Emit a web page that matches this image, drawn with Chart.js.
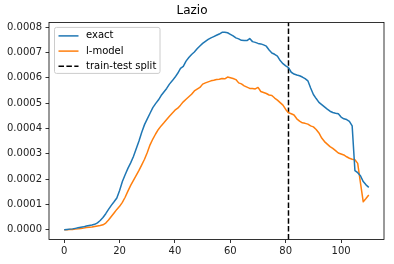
<!DOCTYPE html>
<html>
<head>
<meta charset="utf-8">
<script src="https://cdn.jsdelivr.net/npm/chart.js@4.4.1/dist/chart.umd.min.js"></script>
<style>
  html, body { margin: 0; padding: 0; background: #fff; }
  canvas { display: block; }
</style>
</head>
<body>
<canvas id="lazioChart" width="394" height="264"></canvas>
<script>
// values, in units of 1e-4
const steps = Array.from({length: 111}, (_, i) => i);
const exactVals = [
    0.00, 0.01, 0.02, 0.03, 0.05, 0.07, 0.09, 0.11, 0.14, 0.16,
    0.18, 0.21, 0.27, 0.36, 0.48, 0.63, 0.80, 0.96, 1.10, 1.25,
    1.55, 1.90, 2.17, 2.42, 2.64, 2.89, 3.20, 3.50, 3.85, 4.15,
    4.38, 4.60, 4.82, 4.98, 5.12, 5.30, 5.44, 5.58, 5.75, 5.88,
    6.02, 6.18, 6.37, 6.45, 6.66, 6.80, 6.92, 7.02, 7.15, 7.26,
    7.36, 7.44, 7.52, 7.58, 7.63, 7.68, 7.73, 7.80, 7.80, 7.78,
    7.72, 7.66, 7.58, 7.54, 7.48, 7.47, 7.47, 7.55, 7.43, 7.40,
    7.36, 7.34, 7.30, 7.25, 7.10, 6.98, 6.93, 6.86, 6.68, 6.56,
    6.47, 6.40, 6.22, 6.15, 6.11, 6.08, 6.03, 5.97, 5.88, 5.60,
    5.34, 5.18, 5.03, 4.94, 4.85, 4.76, 4.68, 4.63, 4.60, 4.58,
    4.45, 4.38, 4.35, 4.28, 4.10, 2.33, 2.25, 2.13, 1.90, 1.77,
    1.67
];
const modelVals = [
    0.00, 0.00, 0.01, 0.01, 0.02, 0.03, 0.04, 0.06, 0.08, 0.09,
    0.10, 0.12, 0.14, 0.16, 0.19, 0.26, 0.38, 0.52, 0.66, 0.80,
    0.92, 1.08, 1.28, 1.52, 1.75, 1.95, 2.14, 2.34, 2.56, 2.78,
    3.05, 3.35, 3.58, 3.78, 3.96, 4.10, 4.22, 4.35, 4.48, 4.60,
    4.72, 4.80, 4.92, 5.05, 5.15, 5.25, 5.35, 5.48, 5.55, 5.62,
    5.75, 5.80, 5.84, 5.88, 5.90, 5.93, 5.94, 5.97, 5.96, 6.03,
    6.00, 5.97, 5.93, 5.80, 5.76, 5.68, 5.63, 5.58, 5.58, 5.56,
    5.62, 5.46, 5.42, 5.38, 5.32, 5.30, 5.20, 5.12, 5.02, 4.92,
    4.75, 4.62, 4.58, 4.53, 4.38, 4.29, 4.22, 4.20, 4.17, 4.10,
    4.06, 3.96, 3.82, 3.62, 3.48, 3.38, 3.28, 3.21, 3.12, 3.03,
    2.99, 2.95, 2.88, 2.82, 2.78, 2.76, 2.62, 1.85, 1.10, 1.23,
    1.37
];
const splitX = 81;
const xTicks = [0, 20, 40, 60, 80, 100];
const yTicks = [0, 0.0001, 0.0002, 0.0003, 0.0004, 0.0005, 0.0006, 0.0007, 0.0008];
const xMin = -5.5, xMax = 115.5;
const yMin = -0.000039, yMax = 0.000819;

Chart.defaults.font.family = "'DejaVu Sans', sans-serif";
Chart.defaults.color = '#000';

// matplotlib-like frame around the axes
const frame = {
    id: 'frame',
    afterDraw(chart) {
        const a = chart.chartArea;
        const ctx = chart.ctx;
        ctx.save();
        ctx.strokeStyle = '#000';
        ctx.lineWidth = 0.8;
        ctx.strokeRect(a.left, a.top, a.right - a.left, a.bottom - a.top);
        ctx.restore();
    }
};

// legend drawn inside the plot, upper left
const innerLegend = {
    id: 'innerLegend',
    afterDatasetsDraw(chart) {
        const ctx = chart.ctx;
        const a = chart.chartArea;
        const x = a.left + 5.5, y = a.top + 5, w = 105.5, h = 46;
        ctx.save();
        ctx.beginPath();
        ctx.roundRect(x, y, w, h, 2);
        ctx.fillStyle = 'rgba(255,255,255,0.8)';
        ctx.fill();
        ctx.strokeStyle = '#cccccc';
        ctx.lineWidth = 1;
        ctx.stroke();
        ctx.font = "10px 'DejaVu Sans'";
        ctx.textBaseline = 'middle';
        chart.data.datasets.forEach((ds, i) => {
            const ly = y + 8.5 + i * 15.2;
            ctx.beginPath();
            ctx.setLineDash(ds.borderDash || []);
            ctx.strokeStyle = ds.borderColor;
            ctx.lineWidth = ds.borderWidth;
            ctx.moveTo(x + 4, ly);
            ctx.lineTo(x + 24, ly);
            ctx.stroke();
            ctx.setLineDash([]);
            ctx.fillStyle = '#000';
            ctx.fillText(ds.label, x + 31.5, ly);
        });
        ctx.restore();
    }
};

const ctx = document.getElementById('lazioChart').getContext('2d');
new Chart(ctx, {
    type: 'line',
    data: {
        datasets: [{
            label: 'exact',
            data: steps.map((s, i) => ({x: s, y: exactVals[i] * 1e-4})),
            borderColor: '#1f77b4',
            borderWidth: 1.5,
            pointRadius: 0,
            tension: 0,
            borderJoinStyle: 'round'
        }, {
            label: 'l-model',
            data: steps.map((s, i) => ({x: s, y: modelVals[i] * 1e-4})),
            borderColor: '#ff7f0e',
            borderWidth: 1.5,
            pointRadius: 0,
            tension: 0,
            borderJoinStyle: 'round'
        }, {
            label: 'train-test split',
            data: [{x: splitX, y: yMin}, {x: splitX, y: yMax}],
            borderColor: '#000',
            borderWidth: 1.5,
            borderDash: [5.5, 2.4],
            pointRadius: 0
        }]
    },
    options: {
        responsive: false,
        animation: false,
        devicePixelRatio: 1,
        layout: { padding: { left: 0, right: 10, top: 0, bottom: 0 } },
        plugins: {
            legend: { display: false },
            tooltip: { enabled: false },
            title: {
                display: true,
                text: 'Lazio',
                color: '#000',
                font: { size: 12, weight: 'normal' },
                padding: { top: 4, bottom: 4 }
            }
        },
        scales: {
            x: {
                type: 'linear',
                min: xMin,
                max: xMax,
                afterBuildTicks: (scale) => { scale.ticks = xTicks.map(v => ({value: v})); },
                afterFit: (scale) => { scale.height = 24.5; },
                border: { display: false },
                grid: {
                    drawOnChartArea: false,
                    drawTicks: true,
                    tickLength: 3.5,
                    tickWidth: 0.8,
                    tickColor: '#000'
                },
                ticks: {
                    autoSkip: false,
                    maxRotation: 0,
                    padding: 2,
                    color: '#222',
                    font: { size: 10 }
                }
            },
            y: {
                min: yMin,
                max: yMax,
                afterBuildTicks: (scale) => { scale.ticks = yTicks.map(v => ({value: v})); },
                afterFit: (scale) => { scale.width = 49; },
                border: { display: false },
                grid: {
                    drawOnChartArea: false,
                    drawTicks: true,
                    tickLength: 3.5,
                    tickWidth: 0.8,
                    tickColor: '#000'
                },
                ticks: {
                    autoSkip: false,
                    padding: 3.5,
                    color: '#222',
                    font: { size: 10 },
                    callback: (v) => v.toFixed(4)
                }
            }
        }
    },
    plugins: [innerLegend, frame]
});
</script>
</body>
</html>
